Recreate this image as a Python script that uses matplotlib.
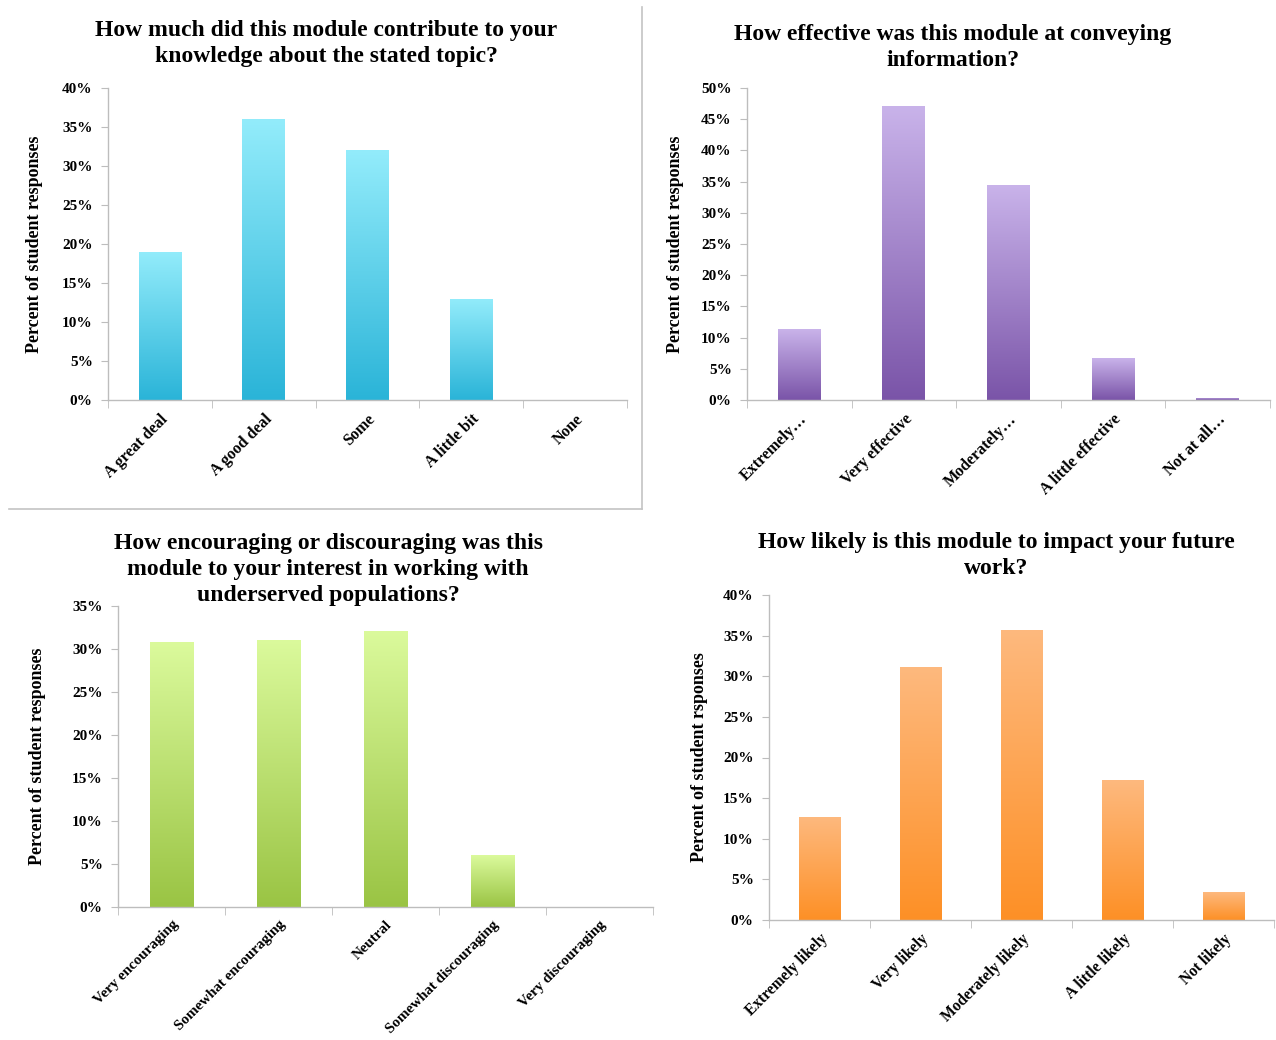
"""Four survey bar charts with gradient-filled bars."""

import numpy as np
import matplotlib.pyplot as plt
from matplotlib.colors import LinearSegmentedColormap
from matplotlib.lines import Line2D
from matplotlib.ticker import MultipleLocator, PercentFormatter

# ---- data ---------------------------------------------------------------
knowledge_labels = ['A great deal', 'A good deal', 'Some', 'A little bit', 'None']
knowledge_values = [19.0, 36.0, 32.0, 13.0, 0.0]

effective_labels = ['Extremely\u2026', 'Very effective', 'Moderately\u2026',
                    'A little effective', 'Not at all\u2026']
effective_values = [11.3, 47.1, 34.4, 6.7, 0.4]

encourage_labels = ['Very encouraging', 'Somewhat encouraging', 'Neutral',
                    'Somewhat discouraging', 'Very discouraging']
encourage_values = [30.8, 31.1, 32.1, 6.0, 0.0]

likely_labels = ['Extremely likely', 'Very likely', 'Moderately likely',
                 'A little likely', 'Not likely']
likely_values = [12.7, 31.2, 35.7, 17.2, 3.4]

titles = [
    'How much did this module contribute to your\nknowledge about the stated topic?',
    'How effective was this module at conveying\ninformation?',
    'How encouraging or discouraging was this\nmodule to your interest in working with\nunderserved populations?',
    'How likely is this module to impact your future\nwork?',
]
ylabels = ['Percent of student responses', 'Percent of student responses',
           'Percent of student responses', 'Percent of student rsponses']

W, H = 1276, 1040
FONT = 'Liberation Serif'
AXIS_GREY = '#BDBDBD'

fig = plt.figure(figsize=(W / 100, H / 100), dpi=100)
fig.patch.set_facecolor('white')


def px_axes(left, top, right, bottom):
    """Create axes from pixel box (origin top-left)."""
    return fig.add_axes([left / W, 1 - bottom / H, (right - left) / W,
                         (bottom - top) / H])


def gradient_bars(ax, values, top_color, bottom_color):
    """Draw bars, then fill each with its own vertical gradient."""
    cmap = LinearSegmentedColormap.from_list('g', [bottom_color, top_color])
    x = np.arange(len(values))
    bars = ax.bar(x, values, width=0.41, color='none', edgecolor='none',
                  zorder=2)
    grad = np.linspace(0, 1, 256).reshape(-1, 1)
    for b in bars:
        h = b.get_height()
        if h <= 0:
            continue
        x0 = b.get_x()
        im = ax.imshow(grad, cmap=cmap, origin='lower', aspect='auto',
                       extent=(x0, x0 + b.get_width(), 0, h), zorder=2,
                       interpolation='bicubic')
        im.set_clip_path(b)
    return bars


def style_axes(ax, labels, ymax, step, xsize):
    n = len(labels)
    ax.set_xlim(-0.5, n - 0.5)
    ax.set_ylim(0, ymax)
    ax.yaxis.set_major_locator(MultipleLocator(step))
    ax.yaxis.set_major_formatter(PercentFormatter(decimals=0))
    for side in ('top', 'right'):
        ax.spines[side].set_visible(False)
    for side in ('left', 'bottom'):
        ax.spines[side].set_color(AXIS_GREY)
        ax.spines[side].set_linewidth(1.0)
    ax.set_xticks(np.arange(n))
    ax.set_xticks(np.arange(n + 1) - 0.5, minor=True)
    ax.set_xticklabels(labels, rotation=45, ha='right', va='top',
                       rotation_mode='anchor', fontfamily=FONT,
                       fontweight='bold', fontsize=xsize)
    ax.tick_params(axis='x', which='major', length=0, pad=8)
    ax.tick_params(axis='x', which='minor', length=6, color=AXIS_GREY,
                   direction='out')
    ax.tick_params(axis='y', length=5, color=AXIS_GREY, direction='out',
                   pad=6)
    for t in ax.get_yticklabels():
        t.set_fontfamily(FONT)
        t.set_fontweight('bold')
        t.set_fontsize(11)
    ax.set_facecolor('none')


panels = [
    # axes box (l, t, r, b), title centre x, title top y, ylabel x
    dict(box=(108, 88, 627, 400), tx=326, ty=20, yx=35, xs=11.5,
         labels=knowledge_labels, values=knowledge_values, ymax=40, step=5,
         colors=('#93ECFB', '#2AB4D8')),
    dict(box=(747, 88, 1270, 400), tx=953, ty=24, yx=676, xs=11.5,
         labels=effective_labels, values=effective_values, ymax=50, step=5,
         colors=('#C9B3EA', '#7A54A8')),
    dict(box=(118, 606, 653, 907), tx=328, ty=533, yx=38, xs=10.8,
         labels=encourage_labels, values=encourage_values, ymax=35, step=5,
         colors=('#DBFA9C', '#9AC444')),
    dict(box=(769, 595, 1274, 920), tx=996, ty=532, yx=700, xs=11.2,
         labels=likely_labels, values=likely_values, ymax=40, step=5,
         colors=('#FEB97E', '#FD9026')),
]

for i, p in enumerate(panels):
    ax = px_axes(*p['box'])
    gradient_bars(ax, p['values'], *p['colors'])
    style_axes(ax, p['labels'], p['ymax'], p['step'], p['xs'])
    fig.text(p['tx'] / W, 1 - p['ty'] / H, titles[i], ha='center', va='top',
             fontfamily=FONT, fontweight='bold', fontsize=17,
             linespacing=1.3)
    ycen = (p['box'][1] + p['box'][3]) / 2
    fig.text(p['yx'] / W, 1 - ycen / H, ylabels[i], rotation=90,
             ha='center', va='center', fontfamily=FONT, fontweight='bold',
             fontsize=13)

# border lines around the first chart (right and bottom edges only)
fig.add_artist(Line2D([642 / W, 642 / W], [1 - 7 / H, 1 - 509 / H],
                      color='#C4C4C4', linewidth=1.2))
fig.add_artist(Line2D([9 / W, 642 / W], [1 - 509 / H, 1 - 509 / H],
                      color='#C4C4C4', linewidth=1.2))

fig.savefig('out.png', dpi=100)
